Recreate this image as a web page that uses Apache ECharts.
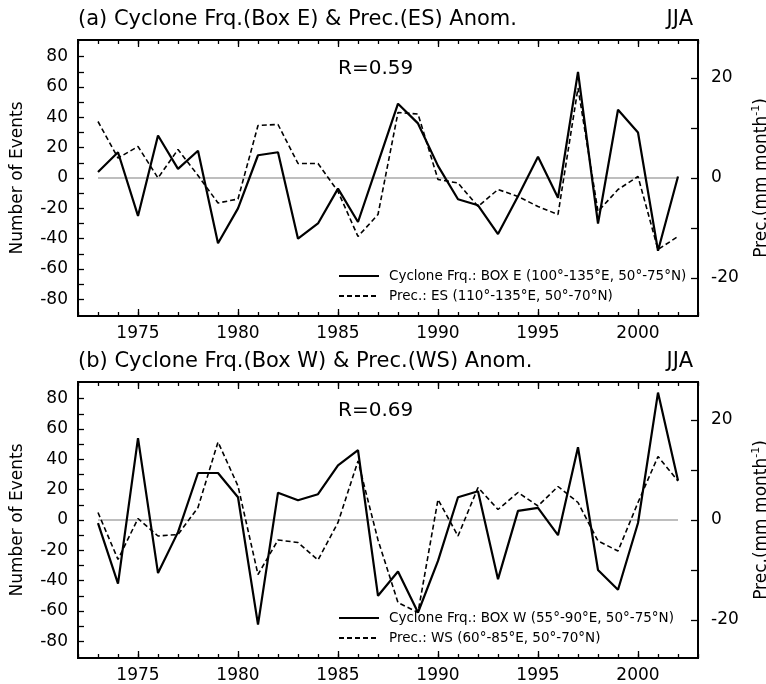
<!DOCTYPE html>
<html>
<head>
<meta charset="utf-8">
<title>Cyclone frequency &amp; precipitation anomalies</title>
<script src="https://cdn.jsdelivr.net/npm/echarts@6/dist/echarts.min.js"></script>
<style>
  html, body { margin: 0; padding: 0; background: #fff; }
  #chart { width: 766px; height: 684px; }
</style>
</head>
<body>
<div id="chart"></div>
<script>
// years on the x axis
const years = [];
for (let y = 1973; y <= 2002; y++) years.push(y);

// (a) cyclone frequency anomaly, Box E (number of events)
const cycE = [4, 17, -25, 28, 6, 18, -43, -20, 15, 17,
  -40, -30, -7, -29, 10, 49, 36, 8, -14, -18,
  -37, -12, 14, -13, 70, -30, 45, 30, -48, 1];
// (a) precipitation anomaly, ES (mm month-1)
const precES = [11.3, 4, 6.3, 0, 5.7, 0.5, -5, -4.2, 10.5, 10.7,
  2.9, 2.9, -2.7, -11.7, -7.3, 13.1, 12.8, -0.3, -1, -5.7,
  -2.3, -3.7, -5.7, -7.3, 18, -6.7, -2.3, 0.3, -14.3, -11.7];

// (b) cyclone frequency anomaly, Box W
const cycW = [-2, -42, 54, -35, -8, 31, 31, 15, -69, 18,
  13, 17, 36, 46, -50, -34, -61, -27, 15, 19,
  -39, 6, 8, -10, 48, -33, -46, -2, 84, 26];
// (b) precipitation anomaly, WS
const precWS = [1.5, -7.9, 0.3, -3.2, -2.9, 2.5, 15.6, 6.8, -10.9, -4,
  -4.5, -8, -0.5, 11.8, -4, -16.5, -18.5, 4.1, -3.2, 6.5,
  2.1, 5.5, 2.8, 6.7, 3.5, -4.2, -6.2, 3.5, 12.7, 7.8];

// axis ranges / ticks
const xMin = 1972, xMax = 2003;            // plot box edges
const yearTickMin = 1975, yearTickMax = 2000, yearStep = 5;
const leftMin = -91, leftMax = 91;         // Number of Events
const leftTickMin = -80, leftTickMax = 80;
const rightMin = -27.6, rightMax = 27.6;   // Prec.
const rightTickMin = -20, rightTickMax = 20;

const FONT = 'DejaVu Sans';
const BOX = { left: 78, width: 620, height: 276 };

// 每个面板的设置
const panels = [
  {
    title: '(a) Cyclone Frq.(Box E) & Prec.(ES) Anom.',
    r: 'R=0.59',
    cycName: 'Cyclone Frq.: BOX E (100°-135°E, 50°-75°N)',
    precName: 'Prec.: ES (110°-135°E, 50°-70°N)',
    cyc: cycE, prec: precES,
    top: 40
  },
  {
    title: '(b) Cyclone Frq.(Box W) & Prec.(WS) Anom.',
    r: 'R=0.69',
    cycName: 'Cyclone Frq.: BOX W (55°-90°E, 50°-75°N)',
    precName: 'Prec.: WS (60°-85°E, 50°-70°N)',
    cyc: cycW, prec: precWS,
    top: 382
  }
];

const grid = [], xAxis = [], yAxis = [], series = [], legend = [], title = [];

const tickStyle = { color: '#000', width: 1.3 };
const labelStyle = { color: '#000', fontSize: 17, fontFamily: FONT };
const noLine = { show: false, onZero: false };
const hidden = (gi) => ({ type: 'value', gridIndex: gi, show: false, min: 0, max: 1 });

// 把数值映射到像素（只用于辅助刻度网格的摆放）
const xPx = (v) => BOX.left + (v - xMin) / (xMax - xMin) * BOX.width;
const yPx = (top, v, lo, hi) => top + (hi - v) / (hi - lo) * BOX.height;

panels.forEach((p, i) => {
  const gm = grid.length;       // 主网格（画线）
  const gx = gm + 1;            // x 主刻度 + 年份标签
  const gl = gm + 2;            // 左轴刻度
  const gr = gm + 3;            // 右轴刻度

  grid.push({
    left: BOX.left, width: BOX.width, top: p.top, height: BOX.height,
    show: true, borderColor: '#000', borderWidth: 2,
    backgroundColor: 'transparent', outerBoundsMode: 'none'
  });
  grid.push({
    left: xPx(yearTickMin), width: xPx(yearTickMax) - xPx(yearTickMin),
    top: p.top, height: BOX.height, outerBoundsMode: 'none'
  });
  const lt = yPx(p.top, leftTickMax, leftMin, leftMax);
  const lb = yPx(p.top, leftTickMin, leftMin, leftMax);
  grid.push({ left: BOX.left, width: BOX.width, top: lt, height: lb - lt, outerBoundsMode: 'none' });
  const rt = yPx(p.top, rightTickMax, rightMin, rightMax);
  const rb = yPx(p.top, rightTickMin, rightMin, rightMax);
  grid.push({ left: BOX.left, width: BOX.width, top: rt, height: rb - rt, outerBoundsMode: 'none' });

  // x 轴
  const xMain = xAxis.length;
  ['bottom', 'top'].forEach(pos => {
    xAxis.push({
      type: 'value', gridIndex: gm, position: pos, min: xMin, max: xMax, interval: 1,
      axisLine: noLine, splitLine: { show: false },
      axisTick: { inside: true, length: 4, lineStyle: tickStyle },
      axisLabel: { show: false }
    });
  });
  ['bottom', 'top'].forEach(pos => {
    xAxis.push({
      type: 'value', gridIndex: gx, position: pos,
      min: yearTickMin, max: yearTickMax, interval: yearStep,
      axisLine: noLine, splitLine: { show: false },
      axisTick: { inside: true, length: 7, lineStyle: tickStyle },
      axisLabel: pos === 'bottom'
        ? Object.assign({ margin: 9, formatter: (v) => String(v) }, labelStyle)
        : { show: false }
    });
  });
  xAxis.push(hidden(gl));
  xAxis.push(hidden(gr));

  // y 轴
  const yMain = yAxis.length;
  yAxis.push({ type: 'value', gridIndex: gm, min: leftMin, max: leftMax, show: false, axisLine: noLine });
  yAxis.push({ type: 'value', gridIndex: gm, min: rightMin, max: rightMax, show: false, axisLine: noLine });
  yAxis.push(hidden(gx));
  // 左 y 轴：事件数
  yAxis.push({
    type: 'value', gridIndex: gl, position: 'left',
    min: leftTickMin, max: leftTickMax, interval: 10,
    name: 'Number of Events', nameLocation: 'middle', nameGap: 52, nameRotate: 90,
    nameTextStyle: labelStyle,
    axisLine: noLine, splitLine: { show: false },
    axisTick: { inside: true, length: 6, lineStyle: tickStyle },
    axisLabel: Object.assign({
      margin: 10, formatter: (v) => (v % 20 === 0 ? String(v) : '')
    }, labelStyle)
  });
  // 右 y 轴：降水
  yAxis.push({
    type: 'value', gridIndex: gr, position: 'right',
    min: rightTickMin, max: rightTickMax, interval: 10,
    name: '{n|Prec.(mm month}{s|-1}{n|)}', nameLocation: 'middle', nameGap: 53, nameRotate: 90,
    nameTextStyle: {
      color: '#000', fontFamily: FONT,
      rich: {
        n: { fontSize: 17, fontFamily: FONT, color: '#000', lineHeight: 22 },
        s: { fontSize: 11, fontFamily: FONT, color: '#000', verticalAlign: 'top', lineHeight: 22 }
      }
    },
    axisLine: noLine, splitLine: { show: false },
    axisTick: { inside: true, length: 7, lineStyle: tickStyle },
    axisLabel: Object.assign({
      margin: 13, formatter: (v) => (v % 20 === 0 ? String(v) : '')
    }, labelStyle)
  });

  // 零线（灰色）
  series.push({
    name: 'zero' + i, type: 'line', xAxisIndex: xMain, yAxisIndex: yMain,
    data: [years[0], years[years.length - 1]].map(y => [y, 0]),
    symbol: 'none', silent: true, z: 1,
    lineStyle: { color: '#a8a8a8', width: 1.5 }
  });
  series.push({
    name: p.precName, type: 'line', xAxisIndex: xMain, yAxisIndex: yMain + 1,
    data: years.map((y, k) => [y, p.prec[k]]),
    symbol: 'none', z: 2,
    lineStyle: { color: '#000', width: 1.6, type: [5, 3] },
    itemStyle: { color: '#000' }
  });
  series.push({
    name: p.cycName, type: 'line', xAxisIndex: xMain, yAxisIndex: yMain,
    data: years.map((y, k) => [y, p.cyc[k]]),
    symbol: 'none', z: 3,
    lineStyle: { color: '#000', width: 2.2 },
    itemStyle: { color: '#000' }
  });

  legend.push({
    data: [p.cycName, p.precName],
    orient: 'vertical', left: 338, top: p.top + 229,
    itemWidth: 40, itemHeight: 14, itemGap: 6, padding: 0,
    itemStyle: { opacity: 0 },
    textStyle: { color: '#000', fontSize: 13.5, fontFamily: FONT, padding: [0, 0, 0, 5] },
    selectedMode: false
  });

  const titleStyle = { color: '#000', fontSize: 21, fontWeight: 'normal', fontFamily: FONT };
  title.push({ text: p.title, left: 78, top: p.top - 31, padding: 0, textStyle: titleStyle });
  title.push({ text: 'JJA', right: 73, top: p.top - 31, padding: 0, textStyle: titleStyle });
  title.push({
    text: p.r, left: 338, top: p.top + 19, padding: 0,
    textStyle: Object.assign({}, titleStyle, { fontSize: 20 })
  });
});

const myChart = echarts.init(document.getElementById('chart'), null, { renderer: 'canvas' });
myChart.setOption({
  backgroundColor: '#fff',
  animation: false,
  title: title,
  legend: legend,
  grid: grid,
  xAxis: xAxis,
  yAxis: yAxis,
  series: series
});
</script>
</body>
</html>
